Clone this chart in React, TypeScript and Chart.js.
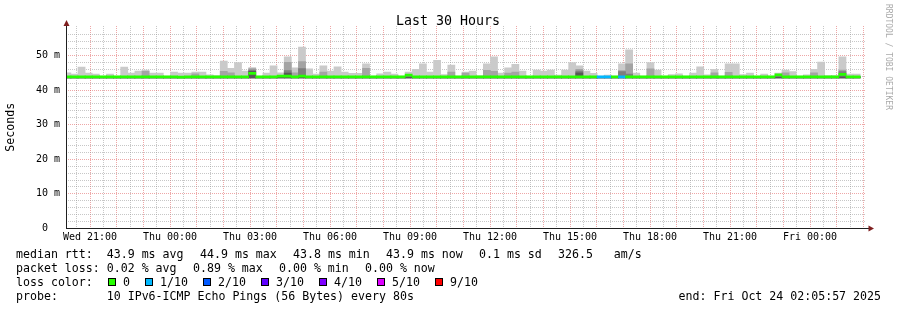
import React, { useEffect, useRef } from "react";
import { Chart, registerables } from "chart.js";

Chart.register(...registerables);

// ---------------- data ----------------
const titleText = "Last 30 Hours";
const yAxisTitle = "Seconds";
const watermark = "RRDTOOL / TOBI OETIKER";
const startHour = 20 + 5 / 60 + 57 / 3600; // Wed 20:05:57, hours since Wed 00:00
const spanHours = 30;
const yMax = 58.5; // ms
const firstBinStartMin = 1200.95; // minutes since Wed 00:00
const binMinutes = 16;
const smokeBase = 43.5;
const medianHalfBand = 0.3;

const xTickHours = [21, 24, 27, 30, 33, 36, 39, 42, 45, 48];
const xTickLabels = ["Wed 21:00", "Thu 00:00", "Thu 03:00", "Thu 06:00", "Thu 09:00", "Thu 12:00", "Thu 15:00", "Thu 18:00", "Thu 21:00", "Fri 00:00"];
const yTickValues = [0, 10, 20, 30, 40, 50];
const yTickLabels = ["0  ", "10 m", "20 m", "30 m", "40 m", "50 m"];

// smoke: highest ping per bin (ms)
const rttMax = [
  45.0, 44.6, 46.6, 44.9, 44.6, 44.0, 44.6, 44.0, 46.6, 44.9,
  45.5, 45.8, 44.9, 44.9, 44.0, 45.2, 44.9, 44.9, 45.2, 45.2,
  44.4, 44.2, 48.4, 46.3, 47.9, 45.5, 46.5, 44.0, 44.9, 47.0,
  45.0, 49.6, 46.4, 52.4, 46.1, 44.6, 47.0, 45.5, 46.7, 45.2,
  44.8, 44.8, 47.6, 44.0, 44.7, 45.2, 44.6, 44.0, 45.2, 46.0,
  47.6, 45.2, 48.6, 44.5, 47.2, 44.0, 45.2, 45.5, 44.2, 47.6,
  49.6, 44.9, 46.4, 47.4, 45.5, 44.0, 45.8, 45.5, 45.8, 44.3,
  45.8, 47.9, 47.0, 45.5, 44.8, 44.0, 44.3, 44.0, 47.6, 51.6,
  44.9, 44.0, 47.9, 45.8, 44.0, 44.5, 44.7, 44.0, 44.9, 46.7,
  44.4, 46.0, 44.0, 47.6, 47.6, 44.5, 44.9, 44.0, 44.6, 44.0,
  44.9, 45.8, 45.3, 44.0, 44.4, 46.0, 48.1, 44.2, 44.2, 49.6,
  44.6, 44.6,
];
// second highest ping
const rttP9 = [
  43.8, 43.8, 43.8, 43.8, 43.8, 43.8, 43.8, 43.8, 43.8, 43.8,
  43.8, 45.4, 43.8, 43.8, 43.8, 43.8, 43.8, 43.8, 44.7, 43.8,
  43.8, 43.8, 45.4, 45.0, 43.8, 43.8, 46.2, 43.8, 43.8, 43.8,
  43.8, 48.0, 45.0, 48.2, 43.8, 43.8, 45.2, 43.8, 43.8, 43.8,
  43.8, 43.8, 46.3, 43.8, 43.8, 43.8, 43.8, 43.8, 43.8, 43.8,
  43.8, 43.8, 43.8, 43.8, 45.2, 43.8, 44.9, 43.8, 43.8, 45.7,
  45.4, 43.8, 44.9, 45.2, 43.8, 43.8, 43.8, 43.8, 43.8, 43.8,
  43.8, 43.8, 46.0, 43.8, 43.8, 43.8, 43.8, 43.8, 45.6, 47.6,
  43.8, 43.8, 46.1, 43.8, 43.8, 43.8, 43.8, 43.8, 43.8, 43.8,
  43.8, 45.0, 43.8, 45.1, 43.8, 43.8, 43.8, 43.8, 43.8, 43.8,
  43.8, 45.0, 43.8, 43.8, 43.8, 45.0, 43.8, 43.8, 43.8, 45.8,
  43.8, 43.8,
];
// third highest ping
const rttP8 = [
  43.8, 43.8, 43.8, 43.8, 43.8, 43.8, 43.8, 43.8, 43.8, 43.8,
  43.8, 43.8, 43.8, 43.8, 43.8, 43.8, 43.8, 43.8, 43.8, 43.8,
  43.8, 43.8, 43.8, 43.8, 43.8, 43.8, 45.8, 43.8, 43.8, 43.8,
  43.8, 45.6, 43.8, 46.2, 43.8, 43.8, 43.8, 43.8, 43.8, 43.8,
  43.8, 43.8, 43.8, 43.8, 43.8, 43.8, 43.8, 43.8, 43.8, 43.8,
  43.8, 43.8, 43.8, 43.8, 43.8, 43.8, 43.8, 43.8, 43.8, 43.8,
  43.8, 43.8, 43.8, 43.8, 43.8, 43.8, 43.8, 43.8, 43.8, 43.8,
  43.8, 43.8, 45.5, 43.8, 43.8, 43.8, 43.8, 43.8, 45.3, 44.6,
  43.8, 43.8, 43.8, 43.8, 43.8, 43.8, 43.8, 43.8, 43.8, 43.8,
  43.8, 43.8, 43.8, 43.8, 43.8, 43.8, 43.8, 43.8, 43.8, 43.8,
  43.8, 43.8, 43.8, 43.8, 43.8, 43.8, 43.8, 43.8, 43.8, 45.3,
  43.8, 43.8,
];
// fourth highest ping
const rttP7 = [
  43.8, 43.8, 43.8, 43.8, 43.8, 43.8, 43.8, 43.8, 43.8, 43.8,
  43.8, 43.8, 43.8, 43.8, 43.8, 43.8, 43.8, 43.8, 43.8, 43.8,
  43.8, 43.8, 43.8, 43.8, 43.8, 43.8, 45.4, 43.8, 43.8, 43.8,
  43.8, 44.9, 43.8, 43.8, 43.8, 43.8, 43.8, 43.8, 43.8, 43.8,
  43.8, 43.8, 43.8, 43.8, 43.8, 43.8, 43.8, 43.8, 43.8, 43.8,
  43.8, 43.8, 43.8, 43.8, 43.8, 43.8, 43.8, 43.8, 43.8, 43.8,
  43.8, 43.8, 43.8, 43.8, 43.8, 43.8, 43.8, 43.8, 43.8, 43.8,
  43.8, 43.8, 45.0, 43.8, 43.8, 43.8, 43.8, 43.8, 43.8, 43.8,
  43.8, 43.8, 43.8, 43.8, 43.8, 43.8, 43.8, 43.8, 43.8, 43.8,
  43.8, 43.8, 43.8, 43.8, 43.8, 43.8, 43.8, 43.8, 43.8, 43.8,
  43.8, 43.8, 43.8, 43.8, 43.8, 43.8, 43.8, 43.8, 43.8, 43.8,
  43.8, 43.8,
];
// median rtt per bin
const rttMedian = [
  43.8, 43.8, 43.8, 43.8, 43.8, 43.8, 43.8, 43.8, 43.8, 43.8,
  43.8, 43.8, 43.8, 43.8, 43.8, 43.8, 43.7, 43.8, 43.8, 43.8,
  43.8, 43.8, 43.8, 43.8, 43.8, 43.8, 44.8, 43.8, 43.8, 43.8,
  44.0, 44.0, 43.8, 44.0, 43.8, 43.8, 43.8, 43.8, 43.8, 43.8,
  43.8, 43.8, 43.8, 43.8, 43.8, 43.8, 43.8, 43.8, 44.3, 43.8,
  43.8, 43.8, 43.8, 43.8, 43.8, 43.8, 43.8, 43.8, 43.8, 43.8,
  43.8, 43.8, 43.8, 43.8, 43.8, 43.8, 43.8, 43.8, 43.8, 43.8,
  43.8, 43.8, 43.8, 43.8, 43.8, 43.8, 43.8, 43.8, 43.8, 43.8,
  43.8, 43.8, 43.8, 43.8, 43.8, 43.8, 43.8, 43.8, 43.8, 43.8,
  43.8, 43.8, 43.8, 43.8, 43.8, 43.8, 43.8, 43.8, 43.8, 43.8,
  44.4, 43.8, 43.8, 43.8, 43.8, 43.8, 43.8, 43.8, 43.8, 44.5,
  43.8, 43.8,
];
// lost pings (of 10) per bin
const lossCount = [
  0, 0, 0, 0, 0, 0, 0, 0, 0, 0,
  0, 0, 0, 0, 0, 0, 0, 0, 0, 0,
  0, 0, 0, 0, 0, 0, 0, 0, 0, 0,
  0, 0, 0, 0, 0, 0, 0, 0, 0, 0,
  0, 0, 0, 0, 0, 0, 0, 0, 0, 0,
  0, 0, 0, 0, 0, 0, 0, 0, 0, 0,
  0, 0, 0, 0, 0, 0, 0, 0, 0, 0,
  0, 0, 0, 0, 0, 1, 1, 0, 1, 0,
  0, 0, 0, 0, 0, 0, 0, 0, 0, 0,
  0, 0, 0, 0, 0, 0, 0, 0, 0, 0,
  0, 0, 0, 0, 0, 0, 0, 0, 0, 0,
  0, 0,
];

const lossBuckets = [0, 1, 2, 3, 4, 5, 9];
const lossLabels = ["0", "1/10", "2/10", "3/10", "4/10", "5/10", "9/10"];
const lossColors = ["#26ff00", "#00b8ff", "#0059ff", "#5e00ff", "#7e00ff", "#dd00ff", "#ff0000"];

const legendLine1 = ["median rtt:  43.9 ms avg", "44.9 ms max", "43.8 ms min", "43.9 ms now", "0.1 ms sd", "326.5   am/s"];
const legendLine2 = ["packet loss: 0.02 % avg", "0.89 % max", "0.00 % min", "0.00 % now"];
const lossColorTitle = "loss color:";
const probeLine = "probe:       10 IPv6-ICMP Echo Pings (56 Bytes) every 80s";
const endLine = "end: Fri Oct 24 02:05:57 2025";

// ---------------- styles ----------------
const W = 897;
const H = 310;
const MONO = '"DejaVu Sans Mono", monospace';
const MINOR = "rgba(143,143,143,0.5)";
const MAJOR = "rgba(222,79,79,0.5)";
const CLEAR = "rgba(0,0,0,0)";
const SMOKE = ["#cacaca", "#a4a4a4", "#7e7e7e", "#585858"];
const CHAR_W = 7;
const ITEM_GAP = 16;

function lossColor(c: number) {
  let idx = 0;
  for (let i = 0; i < lossBuckets.length; i++) if (c >= lossBuckets[i]) idx = i;
  return lossColors[idx];
}

const binCenter = (k: number) => (firstBinStartMin + binMinutes * (k + 0.5)) / 60;

function drawItems(ctx: CanvasRenderingContext2D, items: string[], x0: number, y: number) {
  let x = x0;
  items.forEach((t) => {
    ctx.fillText(t, x, y);
    x += t.length * CHAR_W + ITEM_GAP;
  });
}

const decorPlugin = {
  id: "rrdDecor",
  beforeDraw(chart: any) {
    const ctx = chart.ctx;
    ctx.save();
    ctx.fillStyle = "#ffffff";
    ctx.fillRect(0, 0, chart.width, chart.height);
    ctx.restore();
  },
  afterDraw(chart: any) {
    const ctx: CanvasRenderingContext2D = chart.ctx;
    const a = chart.chartArea;
    ctx.save();
    // axes
    ctx.strokeStyle = "#1f1f1f";
    ctx.lineWidth = 1;
    ctx.setLineDash([]);
    ctx.beginPath();
    ctx.moveTo(a.left + 0.5, a.bottom + 0.5);
    ctx.lineTo(a.left + 0.5, a.top - 3);
    ctx.moveTo(a.left, a.bottom);
    ctx.lineTo(a.right + 4, a.bottom);
    ctx.stroke();
    // arrows
    ctx.fillStyle = "#7f1f1f";
    ctx.beginPath();
    ctx.moveTo(a.left + 0.5, a.top - 6);
    ctx.lineTo(a.left - 2.5, a.top);
    ctx.lineTo(a.left + 3.5, a.top);
    ctx.closePath();
    ctx.fill();
    ctx.beginPath();
    ctx.moveTo(a.right + 8, a.bottom);
    ctx.lineTo(a.right + 2.5, a.bottom - 3);
    ctx.lineTo(a.right + 2.5, a.bottom + 3);
    ctx.closePath();
    ctx.fill();

    // title
    ctx.fillStyle = "#000";
    ctx.font = `13.3px ${MONO}`;
    ctx.textAlign = "center";
    ctx.textBaseline = "alphabetic";
    ctx.fillText(titleText, 448, 24.5);

    // y axis title
    ctx.save();
    ctx.font = `11.6px ${MONO}`;
    ctx.translate(11, (a.top + a.bottom) / 2);
    ctx.rotate(-Math.PI / 2);
    ctx.textAlign = "center";
    ctx.textBaseline = "middle";
    ctx.fillText(yAxisTitle, 0, 0);
    ctx.restore();

    // watermark
    ctx.save();
    ctx.font = `8px ${MONO}`;
    ctx.fillStyle = "#aaaaaa";
    ctx.translate(888, 4);
    ctx.rotate(Math.PI / 2);
    ctx.textAlign = "left";
    ctx.textBaseline = "middle";
    ctx.fillText(watermark, 0, 0);
    ctx.restore();

    // legend
    ctx.font = `11.6px ${MONO}`;
    ctx.fillStyle = "#000";
    ctx.textAlign = "left";
    ctx.textBaseline = "alphabetic";
    drawItems(ctx, legendLine1, 16, 258);
    drawItems(ctx, legendLine2, 16, 272);
    ctx.fillText(lossColorTitle, 16, 286);
    let bx = 108;
    lossLabels.forEach((lab, i) => {
      ctx.fillStyle = lossColors[i];
      ctx.fillRect(bx, 278, 8, 8);
      ctx.strokeStyle = "#000";
      ctx.lineWidth = 1;
      ctx.strokeRect(bx + 0.5, 278.5, 7, 7);
      ctx.fillStyle = "#000";
      const tx = bx + 15;
      ctx.fillText(lab, tx, 286);
      bx = tx + lab.length * CHAR_W + 15;
    });
    ctx.fillText(probeLine, 16, 300);
    ctx.textAlign = "right";
    ctx.fillText(endLine, 881, 300);
    ctx.restore();
  },
};

export default function App() {
  const ref = useRef<HTMLCanvasElement | null>(null);

  useEffect(() => {
    if (!ref.current) return;
    const gridTicks: number[] = [];
    for (let v = Math.ceil(startHour * 2) / 2; v <= startHour + spanHours + 1e-9; v += 0.5) gridTicks.push(v);
    const isHour = (v: number) => Math.abs(v - Math.round(v)) < 1e-6;
    const tickVal = (c: any) => (c && c.tick && typeof c.tick.value === "number" ? c.tick.value : NaN);

    const bars = (hi: number[], color: string, order: number) => ({
      type: "bar" as const,
      data: hi.map((v, k) => ({ x: binCenter(k), y: [smokeBase, v] })),
      backgroundColor: color,
      borderWidth: 0,
      grouped: false,
      barPercentage: 1,
      categoryPercentage: 1,
      order,
      clip: 0,
    });

    const chart = new Chart(ref.current, {
      type: "bar",
      data: {
        datasets: [
          bars(rttMax, SMOKE[0], 6),
          bars(rttP9, SMOKE[1], 5),
          bars(rttP8, SMOKE[2], 4),
          bars(rttP7, SMOKE[3], 3),
          {
            type: "bar",
            data: rttMedian.map((m, k) => ({ x: binCenter(k), y: [m - medianHalfBand, m + medianHalfBand] })),
            backgroundColor: lossCount.map((c) => lossColor(c)),
            borderWidth: 0,
            grouped: false,
            barPercentage: 1,
            categoryPercentage: 1,
            order: 1,
            clip: 0,
          } as any,
        ] as any,
      },
      options: {
        animation: false,
        responsive: false,
        devicePixelRatio: 1,
        events: [],
        layout: { padding: { left: 0, right: 31, top: 26, bottom: 61.5 } },
        plugins: {
          legend: { display: false },
          tooltip: { enabled: false },
          title: { display: false },
        },
        scales: {
          x: {
            type: "linear",
            offset: false,
            min: startHour,
            max: startHour + spanHours,
            afterBuildTicks: (s: any) => {
              s.ticks = gridTicks.map((v) => ({ value: v }));
            },
            afterFit: (s: any) => {
              s.height = 20;
              s.paddingLeft = 0;
              s.paddingRight = 0;
            },
            grid: {
              offset: false,
              color: (c: any) => {
                const v = tickVal(c);
                if (isNaN(v)) return MINOR;
                return isHour(v) ? MAJOR : MINOR;
              },
              lineWidth: 1,
              drawTicks: false,
            },
            border: { display: false, dash: [1, 1] },
            ticks: {
              autoSkip: false,
              maxRotation: 0,
              minRotation: 0,
              padding: 3,
              color: "#000",
              font: { family: MONO, size: 10 },
              callback: (v: any) => {
                const i = xTickHours.findIndex((h) => Math.abs(h - Number(v)) < 1e-6);
                return i >= 0 ? xTickLabels[i] : "";
              },
            },
          },
          y: {
            type: "linear",
            min: 0,
            max: yMax,
            afterFit: (s: any) => {
              s.width = 66;
            },
            grid: {
              color: (c: any) => {
                const v = tickVal(c);
                if (isNaN(v)) return MINOR;
                if (v > yMax - 1) return CLEAR;
                return Math.abs(v % 10) < 1e-6 ? MAJOR : MINOR;
              },
              lineWidth: 1,
              drawTicks: false,
            },
            border: { display: false, dash: [1, 1] },
            ticks: {
              stepSize: 2,
              includeBounds: false,
              autoSkip: false,
              padding: 6,
              color: "#000",
              font: { family: MONO, size: 10 },
              callback: (v: any) => {
                const i = yTickValues.findIndex((t) => Math.abs(t - Number(v)) < 1e-6);
                return i >= 0 ? yTickLabels[i] : "";
              },
            },
          },
        },
      } as any,
      plugins: [decorPlugin],
    });
    return () => chart.destroy();
  }, []);

  return (
    <div style={{ position: "absolute", left: 0, top: 0, width: W, height: H }}>
      <canvas ref={ref} width={W} height={H} style={{ width: W, height: H, display: "block" }} />
    </div>
  );
}
